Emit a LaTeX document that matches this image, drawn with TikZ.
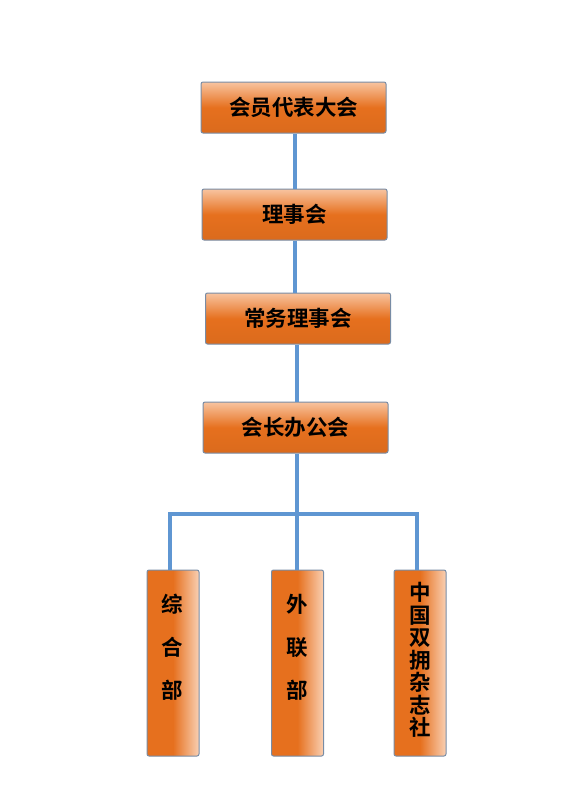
\documentclass[tikz,border=0pt]{standalone}
\usepackage{fontspec}
\newfontfamily\cjk{Noto Sans CJK SC}[BoldFont={Noto Sans CJK SC Bold}]
\definecolor{boxorange}{RGB}{230,112,30}
\definecolor{boxlight}{RGB}{248,196,160}
\definecolor{boxedge}{RGB}{120,140,165}
\definecolor{linkblue}{RGB}{95,150,210}
\begin{document}
\begin{tikzpicture}[x=1pt,y=-1pt,
  hbox/.style={draw=boxedge,line width=1pt,rounded corners=2pt,minimum width=185pt,minimum height=51pt,
     top color=boxlight,bottom color=boxorange!95!black,middle color=boxorange,shading angle=0,
     font=\cjk\bfseries\fontsize{21.5}{23}\selectfont,inner sep=0pt},
  vbox/.style={draw=boxedge,line width=1pt,rounded corners=2pt,minimum width=52pt,minimum height=186pt,
     left color=boxorange,right color=boxlight!80!white,middle color=boxorange,inner sep=0pt},
  vtext/.style={align=center,inner sep=0pt},
  link/.style={draw=linkblue,line width=3.2pt}]
\useasboundingbox (0,0) rectangle (570,800);
\node[hbox] (b1) at (293.5,107.5) {会员代表大会};
\node[hbox] (b2) at (294.5,214.5) {理事会};
\node[hbox] (b3) at (298,318.5) {常务理事会};
\node[hbox] (b4) at (295.5,427.5) {会长办公会};
\node[vbox] (c1) at (173,663) {};
\node[vbox] (c2) at (297.5,663) {};
\node[vbox] (c3) at (420,663) {};
\node[vtext,font=\cjk\bfseries\fontsize{21.5}{43}\selectfont] (t1) at (172,647) {综\\合\\部};
\node[vtext,font=\cjk\bfseries\fontsize{21.5}{43}\selectfont] (t2) at (297,647) {外\\联\\部};
\node[vtext,font=\cjk\bfseries\fontsize{21.5}{22.5}\selectfont] (t3) at (420,660) {中\\国\\双\\拥\\杂\\志\\社};
\coordinate (j) at (297,514);
\draw[link] (b1.south -| 295,0) -- (b2.north -| 295,0);
\draw[link] (b2.south -| 295,0) -- (b3.north -| 295,0);
\draw[link] (b3.south -| 297,0) -- (b4.north -| 297,0);
\draw[link] (b4.south -| 297,0) -- (j);
\draw[link] (c1.north -| 170,0) |- (j) -| (c3.north -| 417,0);
\draw[link] (j) -- (j |- c2.north);
\end{tikzpicture}
\end{document}
